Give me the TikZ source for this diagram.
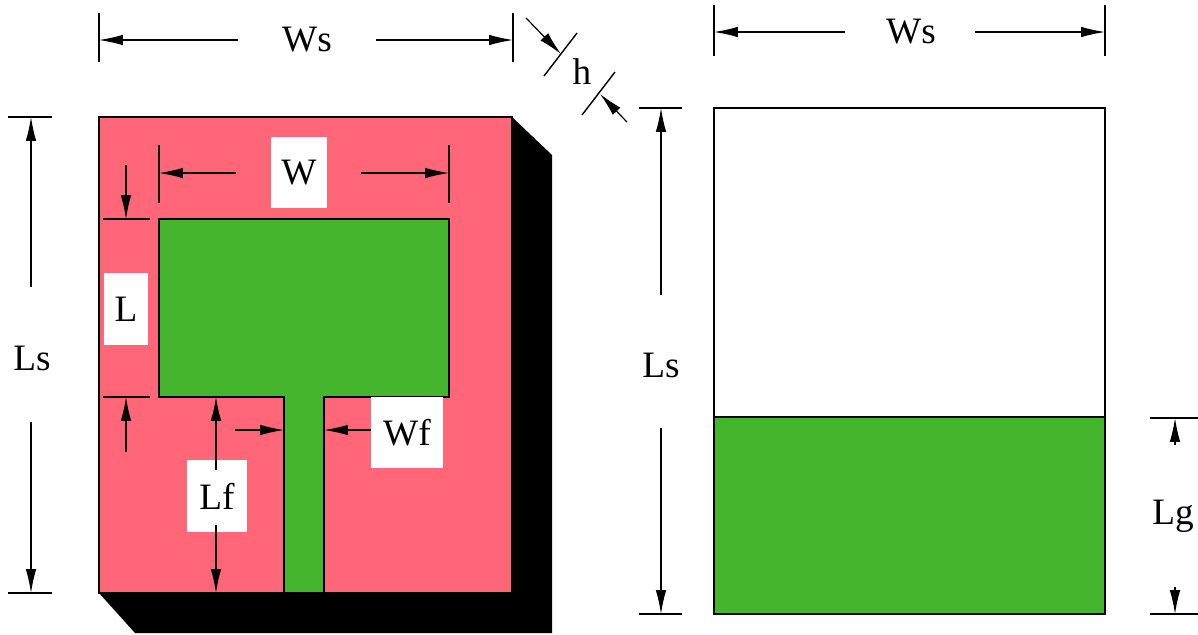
\documentclass[tikz,border=0pt]{standalone}
\usepackage{fontspec}
\setmainfont{Liberation Serif}
\usetikzlibrary{arrows.meta}
\definecolor{substrate}{HTML}{FF6677}
\definecolor{copper}{HTML}{45B52E}
\tikzset{
  dim/.style={-{Latex[length=17pt,width=7.5pt]}, line width=0.85pt},
  tick/.style={line width=1pt},
  lbl/.style={font=\fontsize{26.5}{30}\selectfont, inner sep=0pt},
  lblbox/.style={lbl, fill=white, minimum width=#1*0.025cm}
}
\begin{document}
\begin{tikzpicture}[x=0.025cm, y=-0.025cm, line width=1pt]
  \useasboundingbox (0,0) rectangle (1198,634);

  % front view
  \fill (512,117) -- (552,155) -- (552,633) -- (135,633) -- (99,593) -- cycle;
  \draw[fill=substrate] (99,117) rectangle (512,593);
  \draw[fill=copper] (159,219) -| (449,397) -| (324,593) -| (284,397) -| cycle;

  % back view
  \draw (714,108) rectangle (1105,417);
  \draw[fill=copper] (714,417) rectangle (1105,614);

  % labels on white
  \node[lblbox=56, minimum height=71*0.025cm] (wPatch) at (299,172.5) {W};
  \node[lblbox=44, minimum height=72*0.025cm] (lPatch) at (126,309) {L};
  \node[lblbox=60, minimum height=72*0.025cm] (lFeed) at (217,496) {Lf};
  \node[lblbox=72, minimum height=71*0.025cm] (wFeed) at (407,432.5) {Wf};

  % plain labels
  \node[lbl] (wsFront) at (307,40) {Ws};
  \node[lbl] (wsBack) at (911,32) {Ws};
  \node[lbl] (lsFront) at (32,358) {Ls};
  \node[lbl] (lsBack) at (661,365) {Ls};
  \node[lbl] (lgBack) at (1173,516) {Lg};
  \node[lbl] (hThick) at (582,72) {h};

  % extension lines
  \draw[tick] (99,13) -- (99,62);
  \draw[tick] (513,13) -- (513,62);
  \draw[tick] (714,5) -- (714,56);
  \draw[tick] (1105,5) -- (1105,56);
  \draw[tick] (8,117) -- (52,117);
  \draw[tick] (8,593) -- (52,593);
  \draw[tick] (639,108) -- (682,108);
  \draw[tick] (639,614) -- (682,614);
  \draw[tick] (1150,418) -- (1198,418);
  \draw[tick] (1150,614) -- (1198,614);
  \draw[tick] (159,145) -- (159,203);
  \draw[tick] (449,145) -- (449,203);
  \draw[tick] (103,219) -- (150,219);
  \draw[tick] (103,397) -- (150,397);
  \draw[tick] (544,76) -- (577,33);
  \draw[tick] (582,115) -- (615,72);

  % arrow ends
  \coordinate (wsFrontA) at (238,40);
  \coordinate (wsFrontB) at (376,40);
  \coordinate (wsFrontL) at (99,40);
  \coordinate (wsFrontR) at (513,40);
  \coordinate (wsBackA) at (845,32);
  \coordinate (wsBackB) at (975,32);
  \coordinate (wsBackL) at (714,32);
  \coordinate (wsBackR) at (1105,32);
  \coordinate (lsFrontA) at (31,287);
  \coordinate (lsFrontB) at (31,422);
  \coordinate (lsFrontT) at (31,117);
  \coordinate (lsFrontD) at (31,593);
  \coordinate (lsBackA) at (661,295);
  \coordinate (lsBackB) at (661,428);
  \coordinate (lsBackT) at (661,108);
  \coordinate (lsBackD) at (661,614);
  \coordinate (lgA) at (1175,445);
  \coordinate (lgB) at (1175,587);
  \coordinate (lgT) at (1175,418);
  \coordinate (lgD) at (1175,614);
  \coordinate (wA) at (236,173);
  \coordinate (wB) at (361,173);
  \coordinate (wL) at (159,173);
  \coordinate (wR) at (449,173);
  \coordinate (lA) at (126,165);
  \coordinate (lB) at (126,452);
  \coordinate (lT) at (126,219);
  \coordinate (lD) at (126,397);
  \coordinate (lfA) at (216,470);
  \coordinate (lfB) at (216,525);
  \coordinate (lfT) at (216,397);
  \coordinate (lfD) at (216,593);
  \coordinate (wfA) at (235,430);
  \coordinate (wfB) at (371,430);
  \coordinate (wfL) at (284,430);
  \coordinate (wfR) at (324,430);
  \coordinate (hA) at (526,18);
  \coordinate (hB) at (627,122);
  \coordinate (hT) at (561,54);
  \coordinate (hD) at (600,94);

  \draw[dim] (wsFrontA) -- (wsFrontL);
  \draw[dim] (wsFrontB) -- (wsFrontR);
  \draw[dim] (wsBackA) -- (wsBackL);
  \draw[dim] (wsBackB) -- (wsBackR);
  \draw[dim] (lsFrontA) -- (lsFrontT);
  \draw[dim] (lsFrontB) -- (lsFrontD);
  \draw[dim] (lsBackA) -- (lsBackT);
  \draw[dim] (lsBackB) -- (lsBackD);
  \draw[dim] (lgA) -- (lgT);
  \draw[dim] (lgB) -- (lgD);
  \draw[dim] (wA) -- (wL);
  \draw[dim] (wB) -- (wR);
  \draw[dim] (lA) -- (lT);
  \draw[dim] (lB) -- (lD);
  \draw[dim] (lfA) -- (lfT);
  \draw[dim] (lfB) -- (lfD);
  \draw[dim] (wfA) -- (wfL);
  \draw[dim] (wfB) -- (wfR);
  \draw[dim] (hA) -- (hT);
  \draw[dim] (hB) -- (hD);
\end{tikzpicture}
\end{document}
